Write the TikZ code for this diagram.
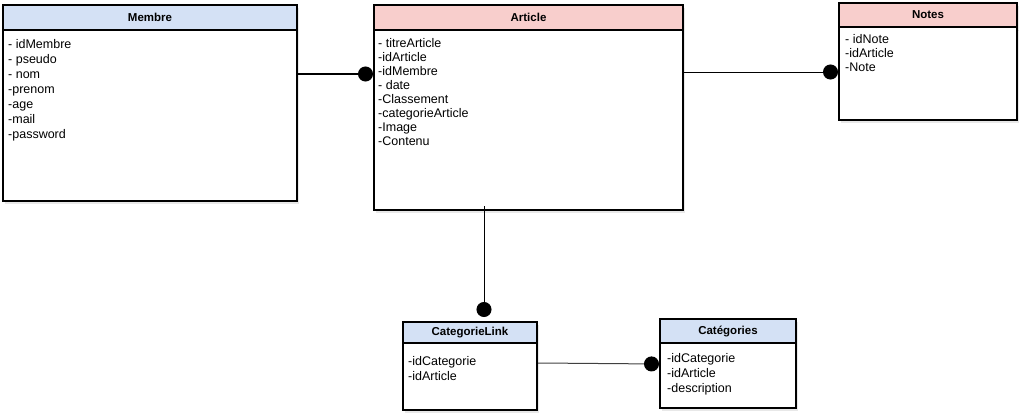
\documentclass[tikz,border=0pt]{standalone}
\usepackage{fontspec}
\setmainfont{Liberation Sans}
\usepackage{xcolor}
\usepackage{tikz}
\usetikzlibrary{shapes,arrows.meta,positioning,shadows}

\definecolor{headblue}{RGB}{212,225,245}
\definecolor{headpink}{RGB}{248,206,204}

\tikzset{
    classhead/.style={
        draw,
        line width=2pt,
        anchor=north west,
        inner sep=0pt,
        font=\fontsize{11.5}{14}\selectfont\bfseries,
        drop shadow={opacity=0.18, shadow xshift=2pt, shadow yshift=-3pt}
    },
    classbody/.style={
        draw,
        fill=white,
        line width=2pt,
        anchor=north west,
        inner sep=0pt,
        drop shadow={opacity=0.18, shadow xshift=2pt, shadow yshift=-3pt}
    },
    attrs/.style={
        anchor=north west,
        inner sep=0pt,
        align=left,
        font=\fontsize{12.5}{15}\selectfont
    },
    link/.style={
        line width=1pt,
        -{Circle[length=15pt,width=15pt,black]}
    }
}

\begin{document}
\begin{tikzpicture}[x=1pt,y=-1pt]
                \useasboundingbox (0,0) rectangle (1023,415);

                \node[classhead, fill=headblue, minimum width=294pt, minimum height=25pt] (membre) at (2,4) {Membre};
                \node[classbody, minimum width=294pt, minimum height=171pt] (membreBody) at (2,29) {};
                \node[attrs] (membreAttr) at (8,39) {- idMembre\\- pseudo\\- nom\\-prenom\\-age\\-mail\\-password};

                \node[classhead, fill=headpink, minimum width=309pt, minimum height=25pt] (article) at (373,4) {Article};
                \node[classbody, minimum width=309pt, minimum height=180pt] (articleBody) at (373,29) {};
                \node[attrs, font=\fontsize{12.5}{14}\selectfont] (articleAttr) at (378,38) {- titreArticle\\-idArticle\\-idMembre\\- date\\-Classement\\-categorieArticle\\-Image\\-Contenu};

                \node[classhead, fill=headpink, minimum width=178pt, minimum height=25pt] (notes) at (838,1.5) {Notes};
                \node[classbody, minimum width=178pt, minimum height=93pt] (notesBody) at (838,26) {};
                \node[attrs, font=\fontsize{12.5}{14}\selectfont] (notesAttr) at (845,34) {- idNote\\-idArticle\\-Note};

                \node[classhead, fill=headblue, minimum width=134pt, minimum height=21pt] (catlink) at (402,321) {CategorieLink};
                \node[classbody, minimum width=134pt, minimum height=67pt] (catlinkBody) at (402,342) {};
                \node[attrs] (catlinkAttr) at (408,356.5) {-idCategorie\\-idArticle};

                \node[classhead, fill=headblue, minimum width=136pt, minimum height=24pt] (categories) at (659,318) {Catégories};
                \node[classbody, minimum width=136pt, minimum height=65pt] (categoriesBody) at (659,342) {};
                \node[attrs] (categoriesAttr) at (667,353) {-idCategorie\\-idArticle\\-description};

                \coordinate (artDown) at ([xshift=-44.5pt,yshift=5pt]articleBody.south);

                \draw[link, line width=2pt] ([yshift=-45pt]membreBody.north east) -- ([yshift=-45pt]articleBody.north west);
                \draw[link] ([yshift=-43pt]articleBody.north east) -- ([yshift=-46pt]notesBody.north west);
                \draw[link, shorten >=4pt] (artDown) -- (artDown |- catlink.north);
                \draw[link, draw=black!75] ([yshift=-21pt]catlinkBody.north east) -- ([yshift=-22pt]categoriesBody.north west);

            \end{tikzpicture}
\end{document}
